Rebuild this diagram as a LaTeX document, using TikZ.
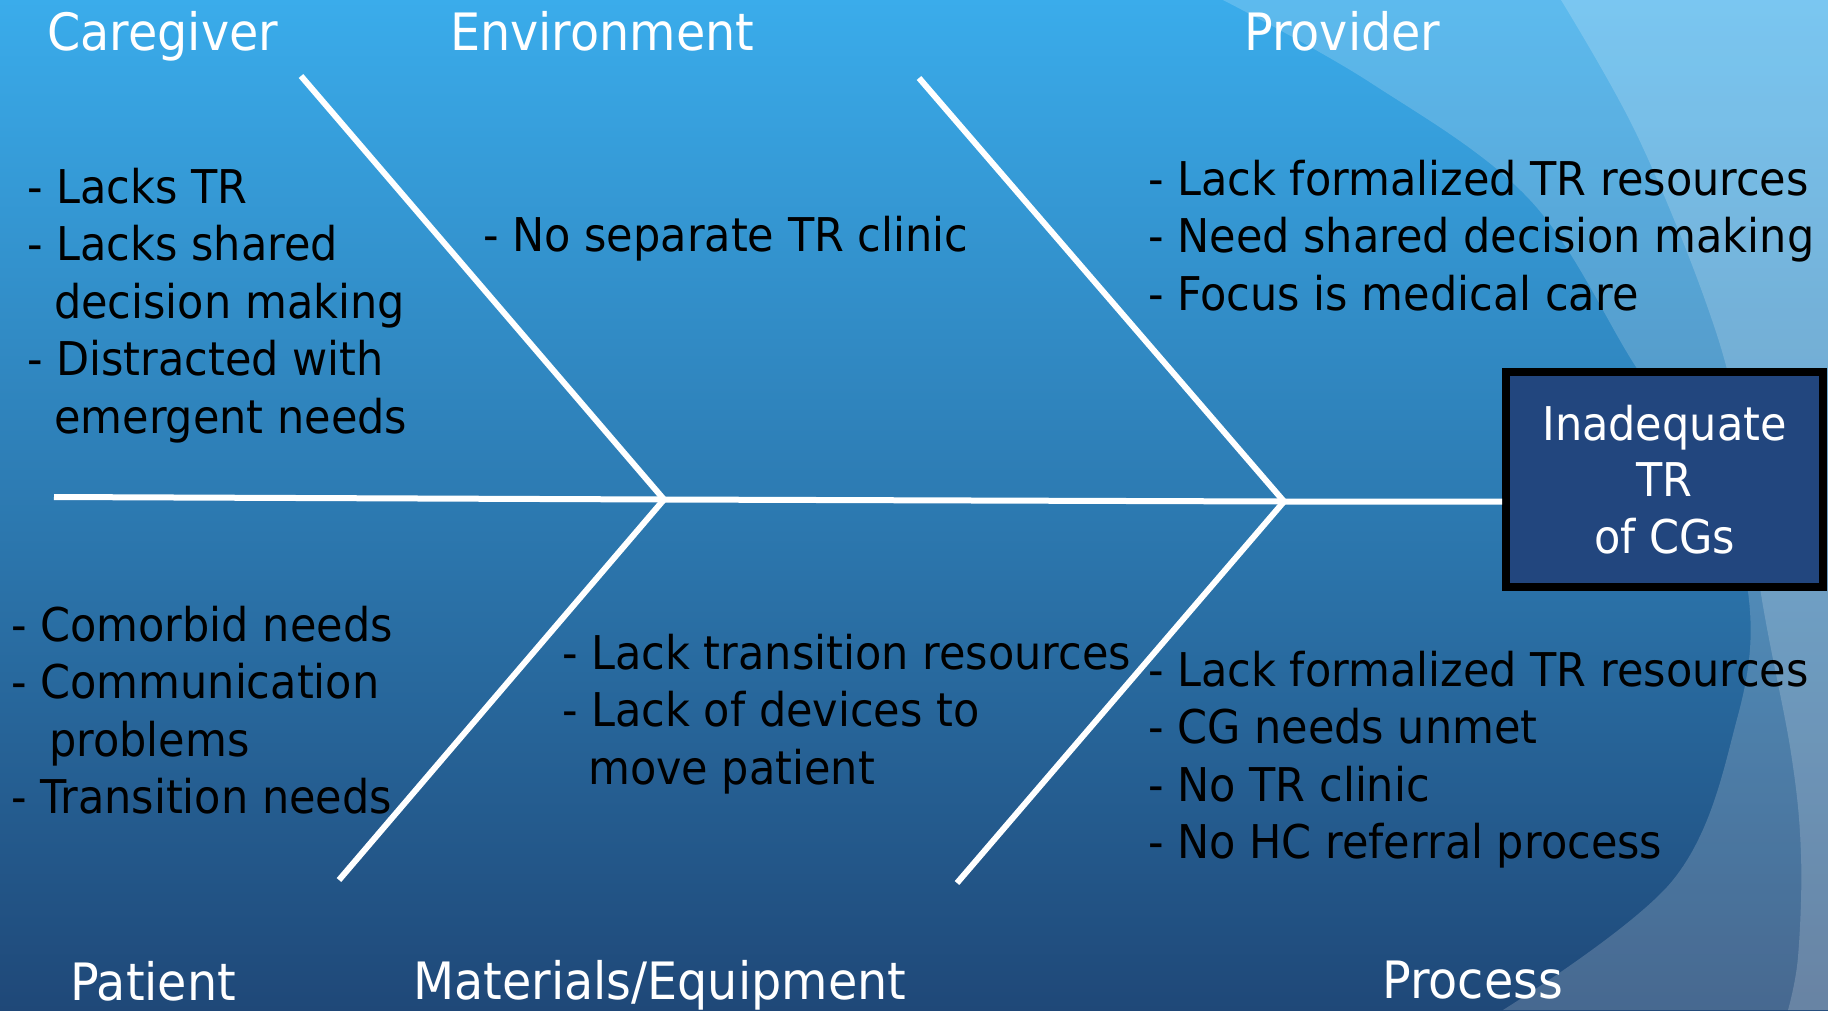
\documentclass[tikz,border=0pt]{standalone}
\usepackage{fontspec}
\setmainfont[FakeStretch=0.925]{DejaVu Sans}
\definecolor{bgtop}{HTML}{3AACEB}
\definecolor{bgmid}{HTML}{2E7BB7}
\definecolor{bgbot}{HTML}{1F4878}
\definecolor{boxblue}{HTML}{22467E}
\begin{document}
\begin{tikzpicture}[x=1pt,y=-1pt,
  bone/.style={draw=white,line width=6pt},
  band/.style={fill=white,fill opacity=0.18},
  item/.style={anchor=base west,inner sep=0pt,text=black,font=\fontsize{46.5}{57.5}\selectfont},
  head/.style={anchor=base west,inner sep=0pt,text=white,font=\fontsize{51.5}{60}\selectfont},
  effect/.style={draw=black,line width=8pt,fill=boxblue,text=white,minimum width=317pt,minimum height=215pt,inner sep=0pt,align=center,font=\fontsize{46.5}{56.5}\selectfont}]
\useasboundingbox (0,0) rectangle (1828,1010);
% background
\shade[top color=bgtop,middle color=bgmid,bottom color=bgbot] (0,0) rectangle (1828,1010);
\fill[band] plot[smooth,tension=0.6] coordinates {(1223,0) (1371,83) (1530,200) (1636,367) (1712,480) (1749,600) (1737,719) (1673,880) (1503,1010)} -- (1828,1010) -- (1828,0) -- cycle;
\fill[band] plot[smooth,tension=0.6] coordinates {(1561,0) (1636,133) (1705,300) (1738,420) (1761,594) (1791,753) (1801,855) (1798,957) (1788,1010)} -- (1828,1010) -- (1828,0) -- cycle;
% effect box
\node[effect] (box) at (1664.5,479.5) {Inadequate\\TR\\of CGs};
% skeleton
\coordinate (tail) at (54,497);
\coordinate (j1) at (664,499.5);
\coordinate (j2) at (1284,501.5);
\coordinate (ul) at (301,76);
\coordinate (ll) at (339,880);
\coordinate (ur) at (919,78);
\coordinate (lr) at (957,883);
\draw[bone] (tail) -- (j1) -- (j2) -- (j2 -| box.west);
\draw[bone] (ul) -- (j1) -- (ll);
\draw[bone] (ur) -- (j2) -- (lr);
% category headings
\node[head] (hcare) at (47,50) {Caregiver};
\node[head] (henv) at (450,50) {Environment};
\node[head] (hprov) at (1244,50) {Provider};
\node[head] (hpat) at (70,1000) {Patient};
\node[head] (hmat) at (413,999) {Materials/Equipment};
\node[head] (hproc) at (1382,998) {Process};
% causes
\node[item] (tcare) at (27,203) {\vtop{\hbox{- Lacks TR}\hbox{- Lacks shared}\hbox{\kern27pt decision making}\hbox{- Distracted with}\hbox{\kern27pt emergent needs}}};
\node[item] (tenv) at (483,251) {- No separate TR clinic};
\node[item] (tprov) at (1148,195) {\vtop{\hbox{- Lack formalized TR resources}\hbox{- Need shared decision making}\hbox{- Focus is medical care}}};
\node[item] (tpat) at (11,641) {\vtop{\hbox{- Comorbid needs}\hbox{- Communication}\hbox{\kern38pt problems}\hbox{- Transition needs}}};
\node[item] (tmat) at (562,669) {\vtop{\hbox{- Lack transition resources}\hbox{- Lack of devices to}\hbox{\kern26pt move patient}}};
\node[item] (tproc) at (1148,686) {\vtop{\hbox{- Lack formalized TR resources}\hbox{- CG needs unmet}\hbox{- No TR clinic}\hbox{- No HC referral process}}};
\end{tikzpicture}
\end{document}
